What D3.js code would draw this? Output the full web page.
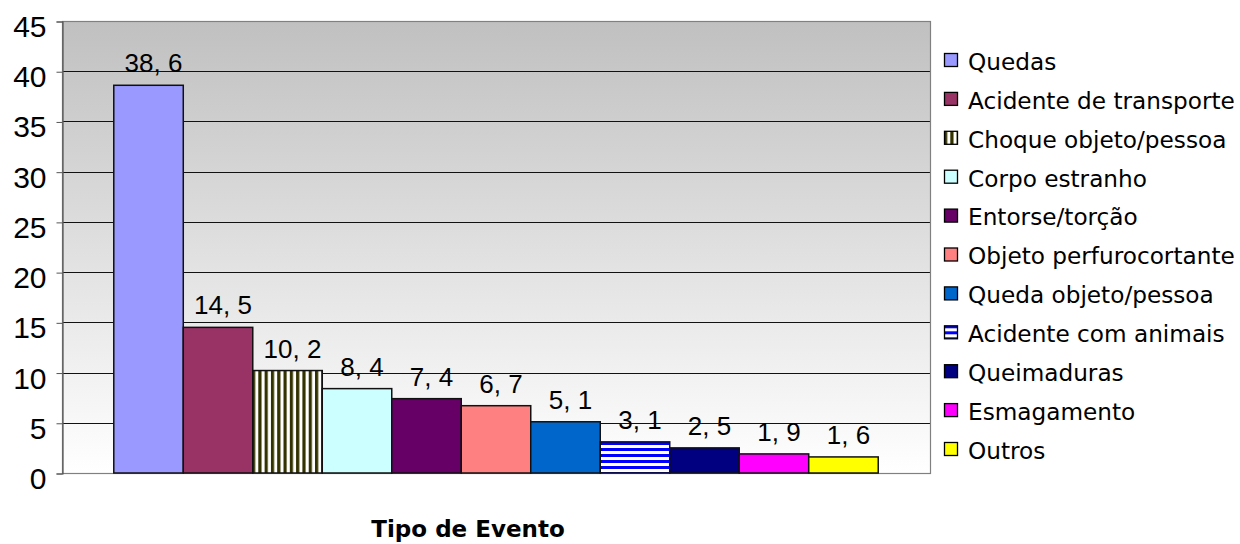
<!DOCTYPE html>
<html>
<head>
<meta charset="utf-8">
<script src="https://cdn.jsdelivr.net/npm/d3@7"></script>
<style>
  html, body { margin: 0; padding: 0; background: #fff; }
  svg { display: block; }
</style>
</head>
<body>
<svg id="chart" width="1240" height="544"></svg>
<script>
// Tipo de evento — percentual por categoria
const categories = [
  "Quedas", "Acidente de transporte", "Choque objeto/pessoa", "Corpo estranho",
  "Entorse/torção", "Objeto perfurocortante", "Queda objeto/pessoa",
  "Acidente com animais", "Queimaduras", "Esmagamento", "Outros"
];
const values = [38.6, 14.5, 10.2, 8.4, 7.4, 6.7, 5.1, 3.1, 2.5, 1.9, 1.6];
const yTicks = [0, 5, 10, 15, 20, 25, 30, 35, 40, 45];
const fills = [
  "#9999ff", "#993366", "url(#vstripe)", "#ccffff", "#660066", "#ff8080",
  "#0066cc", "url(#hstripe)", "#000080", "#ff00ff", "#ffff00"
];
const axisTitle = "Tipo de Evento";

const svg = d3.select("#chart");
const plot = { left: 62, top: 21, right: 930, bottom: 473 };

const defs = svg.append("defs");
const grad = defs.append("linearGradient")
  .attr("id", "bg").attr("x1", 0).attr("y1", 0).attr("x2", 0).attr("y2", 1);
grad.append("stop").attr("offset", "0%").attr("stop-color", "#c0c0c0");
grad.append("stop").attr("offset", "100%").attr("stop-color", "#ffffff");

const vp = defs.append("pattern").attr("id", "vstripe")
  .attr("patternUnits", "userSpaceOnUse").attr("width", 6.3).attr("height", 10);
vp.append("rect").attr("width", 6.3).attr("height", 10).attr("fill", "#ffffff");
vp.append("rect").attr("width", 3.2).attr("height", 10).attr("fill", "#333300");

const hp = defs.append("pattern").attr("id", "hstripe")
  .attr("patternUnits", "userSpaceOnUse").attr("width", 10).attr("height", 6)
  .attr("y", 1);
hp.append("rect").attr("width", 10).attr("height", 6).attr("fill", "#ffffff");
hp.append("rect").attr("y", 3).attr("width", 10).attr("height", 3).attr("fill", "#0000ff");

const x = d3.scaleBand()
  .domain(categories)
  .range([plot.left, plot.right])
  .paddingInner(0)
  .paddingOuter(0.745);
const y = d3.scaleLinear().domain([0, 45]).range([plot.bottom, plot.top]);

// plot background
svg.append("rect")
  .attr("x", plot.left).attr("y", plot.top)
  .attr("width", plot.right - plot.left).attr("height", plot.bottom - plot.top)
  .attr("fill", "url(#bg)");

// gridlines
svg.append("g").selectAll("line")
  .data(yTicks.filter(t => t > 0 && t < 45))
  .join("line")
  .attr("x1", plot.left).attr("x2", plot.right)
  .attr("y1", d => Math.round(y(d)) + 0.5).attr("y2", d => Math.round(y(d)) + 0.5)
  .attr("stroke", "#111").attr("stroke-width", 1);

// plot border
svg.append("rect")
  .attr("x", plot.left + 0.5).attr("y", plot.top + 0.5)
  .attr("width", plot.right - plot.left).attr("height", plot.bottom - plot.top)
  .attr("fill", "none").attr("stroke", "#808080").attr("stroke-width", 1.2);

// y axis
const yAxis = d3.axisLeft(y).tickValues(yTicks).tickSize(6).tickPadding(10);
const gy = svg.append("g").attr("transform", `translate(${plot.left + 0.5},0.5)`).call(yAxis);
gy.select(".domain").attr("stroke", "#555").attr("stroke-width", 1.2);
gy.selectAll(".tick line").attr("stroke", "#555");
gy.selectAll(".tick text")
  .attr("font-family", "Liberation Sans, Arial, sans-serif")
  .attr("font-size", 30).attr("fill", "#000").attr("dy", "0.5em");

// bars
svg.append("g").selectAll("rect")
  .data(categories)
  .join("rect")
  .attr("x", d => x(d))
  .attr("y", (d, i) => y(values[i]))
  .attr("width", x.bandwidth())
  .attr("height", (d, i) => y(0) - y(values[i]))
  .attr("fill", (d, i) => fills[i])
  .attr("stroke", "#111").attr("stroke-width", 1.5);

// value labels
svg.append("g").selectAll("text")
  .data(categories)
  .join("text")
  .attr("x", d => x(d) + x.bandwidth() / 2 + 5)
  .attr("y", (d, i) => y(values[i]) - 13)
  .attr("text-anchor", "middle")
  .attr("font-family", "Liberation Sans, Arial, sans-serif")
  .attr("font-size", 26)
  .attr("fill", "#000")
  .text((d, i) => String(values[i]).replace(".", ", "));

// legend
const legend = svg.append("g").attr("transform", "translate(944,0)");
const rowY = d3.scaleLinear().domain([0, categories.length - 1]).range([61, 450]);
const items = legend.selectAll("g").data(categories).join("g")
  .attr("transform", (d, i) => `translate(0,${rowY(i)})`);
items.append("rect")
  .attr("x", 0.5).attr("y", -7.5).attr("width", 13).attr("height", 13)
  .attr("fill", (d, i) => fills[i])
  .attr("stroke", "#000").attr("stroke-width", 1.3);
items.append("text")
  .attr("x", 24).attr("y", 0).attr("dy", "0.38em")
  .attr("font-family", "DejaVu Sans, sans-serif")
  .attr("font-size", 23.2)
  .attr("fill", "#000")
  .text(d => d);

// axis title
svg.append("text")
  .attr("x", 468).attr("y", 537)
  .attr("text-anchor", "middle")
  .attr("font-family", "DejaVu Sans, sans-serif")
  .attr("font-weight", "bold")
  .attr("font-size", 23)
  .attr("fill", "#000")
  .text(axisTitle);
</script>
</body>
</html>
